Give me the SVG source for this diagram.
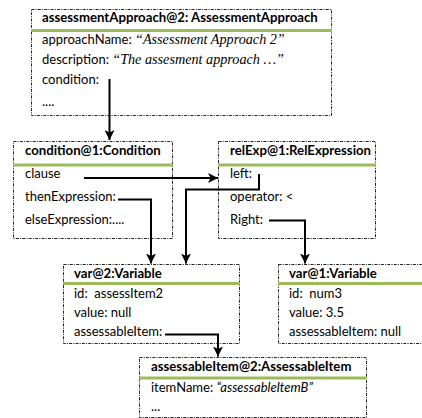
<svg xmlns="http://www.w3.org/2000/svg" width="422" height="418" viewBox="0 0 422 418">
  <defs>
    <marker id="head" viewBox="0 0 10 10" refX="10" refY="5" markerWidth="5" markerHeight="5" orient="auto" markerUnits="strokeWidth">
      <path d="M0,0 L10,5 L0,10 L2.5,5 Z" fill="#000"/>
    </marker>
  </defs>
  <style>
    .box { fill: #fff; stroke: #222; stroke-width: 1; stroke-dasharray: 3 1.2 1 1.2; }
    .bar { stroke: #9bbb59; stroke-width: 3; }
    .title { font-family: Lato, "Liberation Sans", sans-serif; font-weight: bold; font-size: 13.2px; fill: #000; }
    .txt { font-family: Lato, "Liberation Sans", sans-serif; font-size: 13px; fill: #000; white-space: pre; }
    .ser { font-family: "Liberation Serif", serif; font-style: italic; font-size: 14.2px; }
    .ita { font-style: italic; }
    .conn { fill: none; stroke: #000; stroke-width: 2; marker-end: url(#head); }
  </style>
  <rect width="422" height="418" fill="#fff"/>

  <!-- object boxes -->
  <g id="assessmentApproach">
    <rect class="box" x="31.5" y="9.5" width="300" height="106"/>
    <line class="bar" x1="31" y1="30.5" x2="332" y2="30.5"/>
    <text class="title" x="42" y="22">assessmentApproach@2: AssessmentApproach</text>
    <text class="txt" x="42" y="44">approachName: <tspan class="ser">“Assessment Approach 2”</tspan></text>
    <text class="txt" x="42" y="64">description: <tspan class="ser">“The assesment approach …”</tspan></text>
    <text class="txt" x="42" y="84">condition:</text>
    <text class="txt" x="42" y="106">....</text>
  </g>

  <g id="condition">
    <rect class="box" x="13.5" y="141.5" width="159" height="97"/>
    <line class="bar" x1="13" y1="165" x2="173" y2="165"/>
    <text class="title" x="25" y="155">condition@1:Condition</text>
    <text class="txt" x="25" y="178">clause</text>
    <text class="txt" x="25" y="201">thenExpression:</text>
    <text class="txt" x="25" y="224">elseExpression:....</text>
  </g>

  <g id="relExp">
    <rect class="box" x="218.5" y="141.5" width="157" height="97"/>
    <line class="bar" x1="218" y1="165" x2="376" y2="165"/>
    <text class="title" x="230" y="155">relExp@1:RelExpression</text>
    <text class="txt" x="230" y="178">left:</text>
    <text class="txt" x="230" y="201">operator: &lt;</text>
    <text class="txt" x="230" y="224">Right:</text>
  </g>

  <g id="var2">
    <rect class="box" x="63.5" y="264.5" width="176" height="79"/>
    <line class="bar" x1="63" y1="283.5" x2="240" y2="283.5"/>
    <text class="title" x="74" y="278">var@2:Variable</text>
    <text class="txt" x="74" y="298">id:  assessItem2</text>
    <text class="txt" x="74" y="317">value: null</text>
    <text class="txt" x="74" y="336">assessableItem:</text>
  </g>

  <g id="var1">
    <rect class="box" x="278.5" y="264.5" width="146" height="79"/>
    <line class="bar" x1="278" y1="283.5" x2="424" y2="283.5"/>
    <text class="title" x="289" y="278">var@1:Variable</text>
    <text class="txt" x="289" y="298">id:  num3</text>
    <text class="txt" x="289" y="317">value: 3.5</text>
    <text class="txt" x="289" y="336">assessableItem: null</text>
  </g>

  <g id="assessableItem">
    <rect class="box" x="139.5" y="357.5" width="227" height="60"/>
    <line class="bar" x1="139" y1="378" x2="367" y2="378"/>
    <text class="title" x="151" y="371">assessableItem@2:AssessableItem</text>
    <text class="txt" x="151" y="392">itemName: <tspan class="ita">“assessableItemB”</tspan></text>
    <text class="txt" x="151" y="411">...</text>
  </g>

  <!-- references between objects -->
  <g id="connectors">
    <path class="conn" d="M109.5,79 V140"/>
    <path class="conn" d="M84,178 H218"/>
    <path class="conn" d="M259,174 V189.5 H186 V263.5"/>
    <path class="conn" d="M118,199.5 H151 V263.5"/>
    <path class="conn" d="M269,220.5 H305 V263.5"/>
    <path class="conn" d="M165,334.5 H218 V356.5"/>
  </g>
</svg>
